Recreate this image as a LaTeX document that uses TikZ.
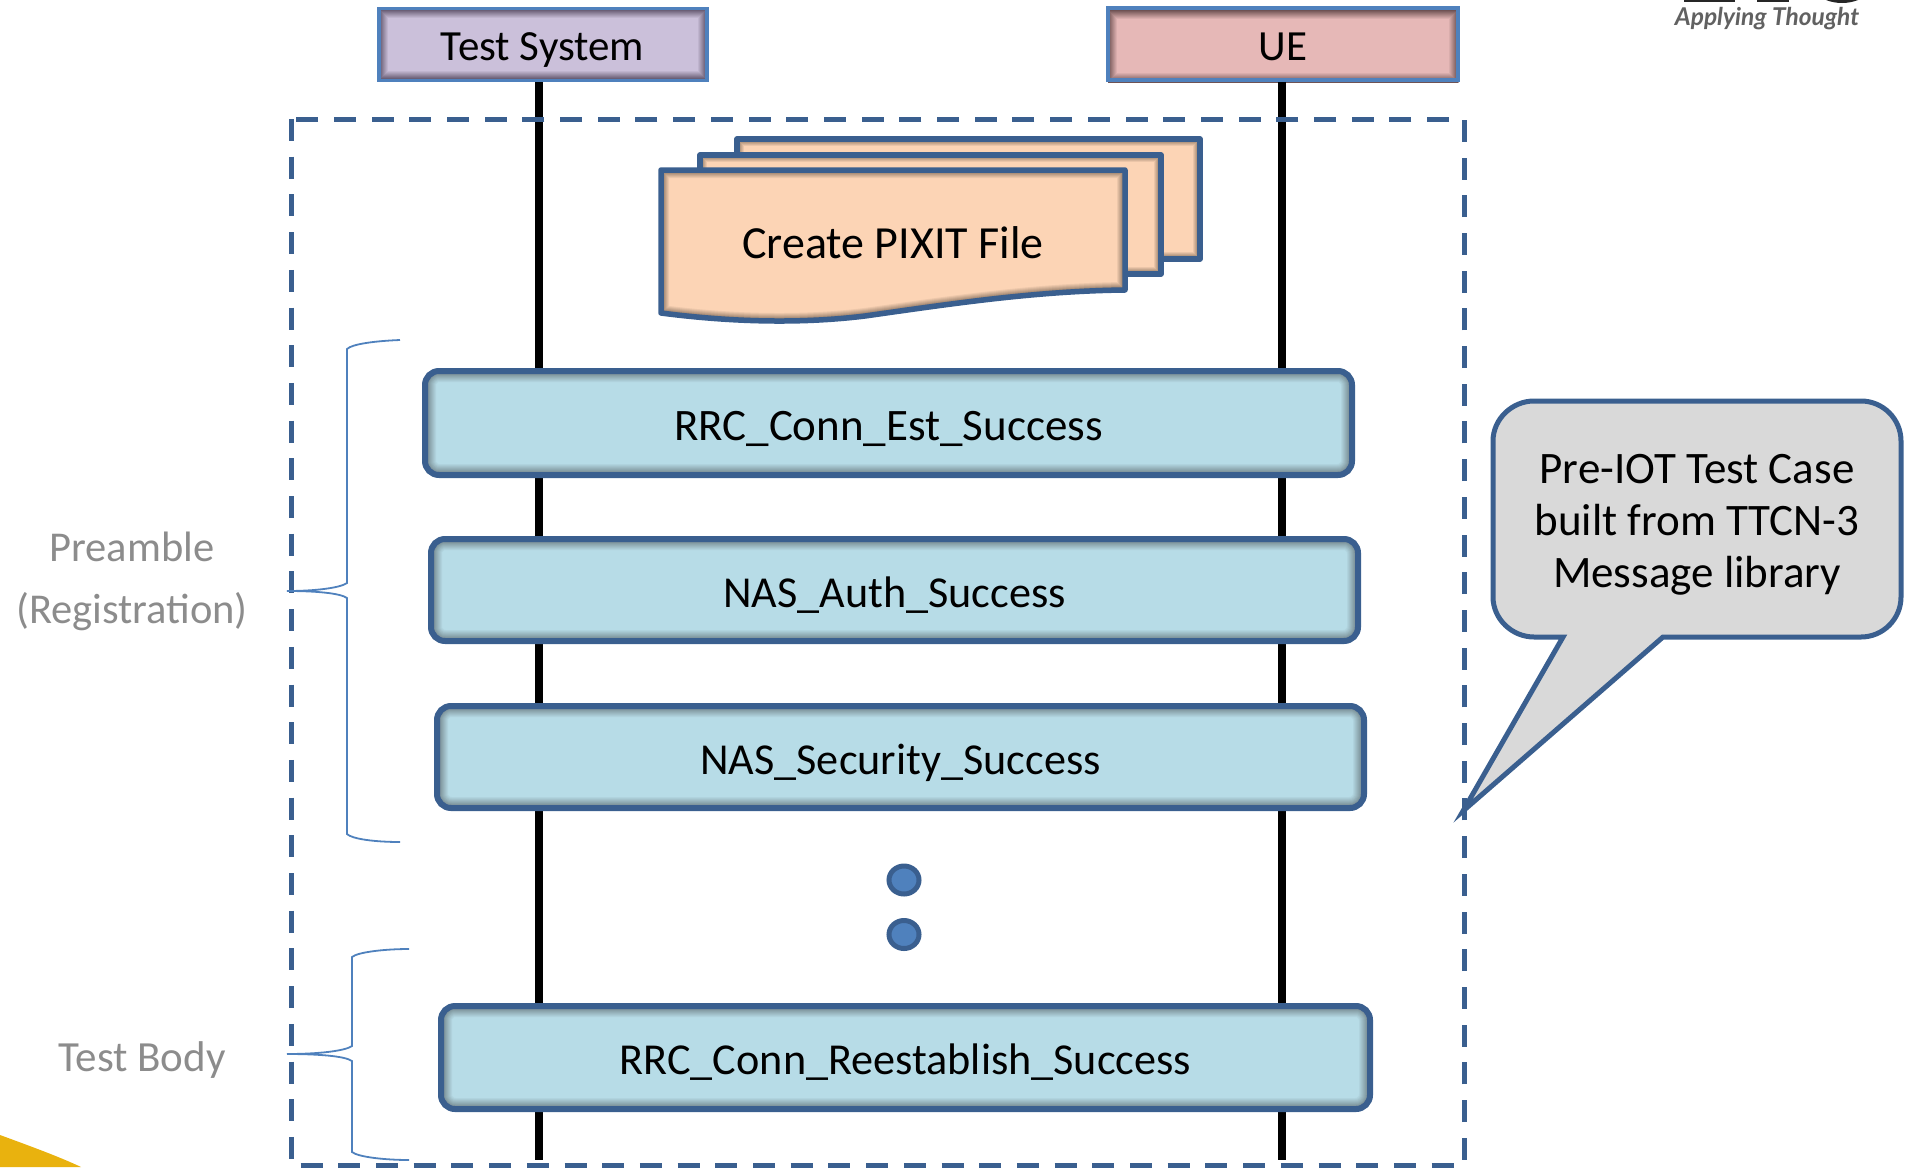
\documentclass[tikz,border=0pt]{standalone}
\usepackage{fontspec}
\setmainfont{Carlito}
\newfontfamily\logofont{Lato}
\definecolor{edgeblue}{HTML}{3A5F8F}
\definecolor{headblue}{HTML}{4F81BD}
\definecolor{bluefill}{HTML}{B7DCE7}
\definecolor{blueedge}{HTML}{5F6D72}
\definecolor{purplefill}{HTML}{CBC0DA}
\definecolor{purpleedge}{HTML}{4C4056}
\definecolor{pinkfill}{HTML}{E6B8B7}
\definecolor{pinkedge}{HTML}{5A4041}
\definecolor{peachfill}{HTML}{FCD4B5}
\definecolor{peachedge}{HTML}{6C5A4A}
\definecolor{calloutfill}{HTML}{D9D9D9}
\definecolor{labelgray}{HTML}{8C8C8C}
\definecolor{swoosh}{HTML}{E9B20E}
\definecolor{dotfill}{HTML}{4F81BD}
\newcommand{\innerglow}[4]{% path, fill, edge, depth
  \fill[#2] #1;
  \begin{scope}
    \clip #1;
    \foreach \k in {1,...,#4}{
      \pgfmathsetmacro{\pct}{100-85*(\k/#4)}
      \pgfmathsetmacro{\wid}{2*(#4-\k+1)}
      \draw[line width=\wid pt,color=#2!\pct!#3] #1;
    }
  \end{scope}}
\newcommand{\msgpath}[4]{(#1,#2) rectangle (#3,#4)}
\tikzset{
  txt/.style={font=\fontsize{45}{52}\selectfont,inner sep=0pt,text=black},
  oneline/.style={txt,text height=36pt,text depth=2pt},
  msgbox/.style={oneline,rectangle,draw=edgeblue,line width=6pt,rounded corners=14pt,minimum height=101pt},
  narrowmsg/.style={msgbox,font=\fontsize{44.2}{52}\selectfont},
  headbox/.style={oneline,text height=34pt,rectangle,draw=headblue,line width=3.5pt,minimum height=72pt,font=\fontsize{43}{52}\selectfont},
  lifeline/.style={draw=black,line width=8pt},
  frameline/.style={draw=edgeblue,line width=5pt,dash pattern=on 22pt off 15.7pt},
  bracel/.style={draw=headblue,line width=1.8pt},
  graylabel/.style={txt,text=labelgray,align=center,font=\fontsize{43}{52}\selectfont},
  dotnode/.style={ellipse,draw=edgeblue,fill=dotfill,line width=5pt,minimum width=30pt,minimum height=28pt,inner sep=0pt},
  sheet/.style={draw=edgeblue,line width=5.5pt,line join=round}
}
\usetikzlibrary{shapes.geometric}
\begin{document}
\begin{tikzpicture}[x=1pt,y=-1pt]
\useasboundingbox (0,0) rectangle (1905,1167);
% corner fragments
\fill[swoosh] (0,1135) .. controls (30,1146) and (60,1157) .. (81,1167) -- (0,1167) -- cycle;
\fill[black!85] (1684,0) rectangle (1735,2);
\fill[black!85] (1757,0) rectangle (1789,2);
\fill[black!85] (1826,0) .. controls (1836,4) and (1848,4) .. (1858,0) -- cycle;
\node[inner sep=0pt,text=black!62] (logo) at (1767,19) {\logofont\bfseries\itshape\fontsize{24.5}{26}\selectfont Applying Thought};
% lifeline ends
\coordinate (tsEnd) at (539,1160);
\coordinate (ueEnd) at (1282,1160);
% headers
\innerglow{\msgpath{379}{9}{707}{80}}{purplefill}{purpleedge}{9}
\innerglow{\msgpath{1108}{10}{1458}{82}}{pinkfill}{pinkedge}{9}
\node[headbox,minimum width=328pt] (ts) at (543,44.5) {\hspace*{-1pt}Test System};
\node[headbox,minimum width=350pt] (ue) at (1283,44) {UE};
% lifelines
\draw[lifeline] (ts.south -| tsEnd) -- (tsEnd);
\draw[lifeline] (ue.south -| ueEnd) -- (ueEnd);
% frame
\draw[frameline] (291,119) rectangle (1464,1165);
% PIXIT stack
\innerglow{(737,139) -- (1200,139) -- (1200,259) -- (737,259) -- cycle}{peachfill}{peachedge}{7}
\draw[sheet] (737,259) -- (737,139) -- (1200,139) -- (1200,259) -- cycle;
\innerglow{(700,155) -- (1161,155) -- (1161,274) -- (700,274) -- cycle}{peachfill}{peachedge}{7}
\draw[sheet] (700,155) -- (1161,155) -- (1161,274) -- (700,274) -- cycle;
\newcommand{\frontsheet}{(661,170) -- (1125,170) -- (1125,290) .. controls (1035,291) and (950,304) .. (865,316) .. controls (800,324) and (730,322) .. (661,313) -- cycle}
\innerglow{\frontsheet}{peachfill}{peachedge}{8}
\draw[sheet] \frontsheet;
\node[oneline,font=\fontsize{46}{52}\selectfont] (pixit) at (893,241) {Create PIXIT File};
% message boxes
\innerglow{[rounded corners=14pt] (425,371) rectangle (1352,475)}{bluefill}{blueedge}{11}
\node[msgbox,minimum width=927pt,minimum height=104pt] (m1) at (888.5,423) {RRC\_Conn\_Est\_Success};
\innerglow{[rounded corners=14pt] (431,539) rectangle (1358,641)}{bluefill}{blueedge}{11}
\node[narrowmsg,minimum width=927pt,minimum height=102pt] (m2) at (894.5,590) {NAS\_Auth\_Success};
\innerglow{[rounded corners=14pt] (437,706) rectangle (1364,808)}{bluefill}{blueedge}{11}
\node[narrowmsg,minimum width=927pt,minimum height=102pt] (m3) at (900.5,757) {NAS\_Security\_Success};
\innerglow{[rounded corners=14pt] (441,1006) rectangle (1370,1109)}{bluefill}{blueedge}{11}
\node[narrowmsg,minimum width=929pt,minimum height=103pt] (m4) at (905.5,1057.5) {RRC\_Conn\_Reestablish\_Success};
% dots
\node[dotnode] (d1) at (904,880) {};
\node[dotnode] (d2) at (904,934.5) {};
% braces
\coordinate (b1a) at (400,340); \coordinate (b1t) at (287,591); \coordinate (b1b) at (400,842);
\draw[bracel] (b1a) .. controls (375,341) and (352,344) .. (347,349) -- (347,583) .. controls (340,588) and (315,591) .. (b1t) .. controls (315,591) and (340,593) .. (347,598) -- (347,834) .. controls (352,839) and (375,842) .. (b1b);
\coordinate (b2a) at (409,949); \coordinate (b2t) at (287,1054); \coordinate (b2b) at (409,1160);
\draw[bracel] (b2a) .. controls (385,949) and (358,952) .. (352,957) -- (352,1046) .. controls (345,1051) and (318,1054) .. (b2t) .. controls (318,1054) and (345,1056) .. (352,1061) -- (352,1152) .. controls (358,1157) and (385,1160) .. (b2b);
% labels
\node[graylabel,font=\fontsize{42.5}{62}\selectfont] (pre) at (132,581) {Preamble\\(Registration)};
\node[graylabel] (tb) at (142,1060) {Test Body};
% callout
\draw[draw=edgeblue,fill=calloutfill,line width=5pt,miter limit=10] (1563,637) -- (1534,637) .. controls (1512,637) and (1493,619) .. (1493,597) -- (1493,441) .. controls (1493,419) and (1512,401) .. (1534,401) -- (1861,401) .. controls (1883,401) and (1901,419) .. (1901,441) -- (1901,597) .. controls (1901,619) and (1883,637) .. (1861,637) -- (1663,637) -- (1463,811) -- cycle;
\node[txt,align=center] (note) at (1697,525) {Pre-IOT Test Case\\built from TTCN-3\\Message library};
\end{tikzpicture}
\end{document}
